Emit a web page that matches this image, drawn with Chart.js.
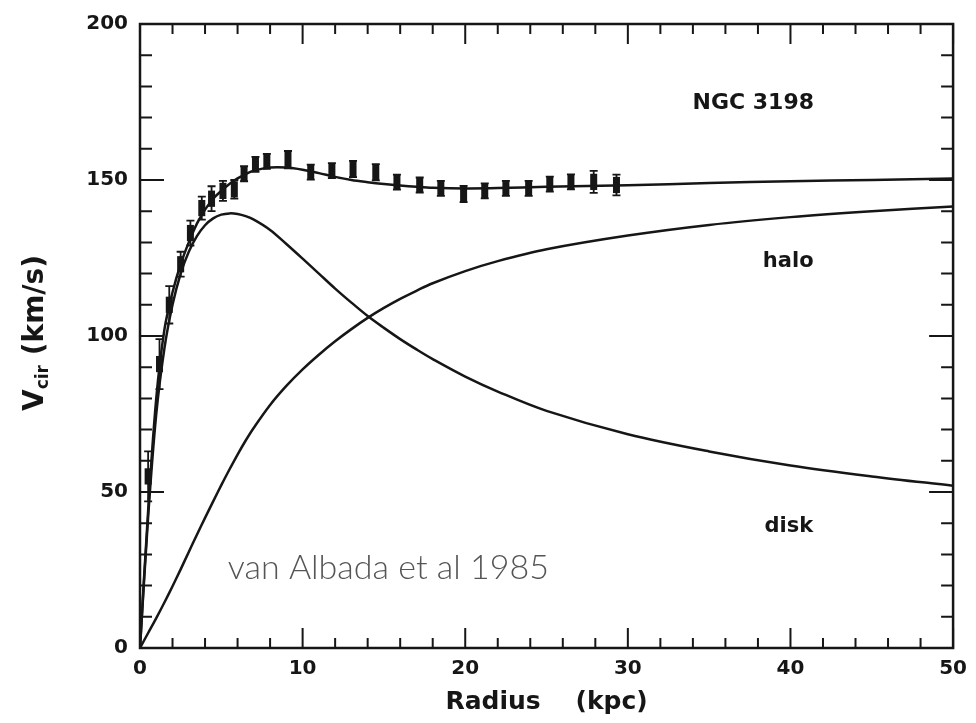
<!doctype html>
<html lang="en">
<head>
  <meta charset="utf-8">
  <title>NGC 3198 rotation curve</title>
  <script src="https://cdn.jsdelivr.net/npm/chart.js"></script>
  <style>
    html, body { margin: 0; padding: 0; background: #fff; }
  </style>
</head>
<body>
  <canvas id="curve" width="976" height="723"></canvas>

  <script>
    // observed rotation curve: radius (kpc), velocity (km/s), error (km/s)
    const obsR   = [0.5, 1.2, 1.8, 2.5, 3.1, 3.8, 4.4, 5.1, 5.8, 6.4, 7.1, 7.8, 9.1,
                    10.5, 11.8, 13.1, 14.5, 15.8, 17.2, 18.5, 19.9, 21.2, 22.5,
                    23.9, 25.2, 26.5, 27.9, 29.3];
    const obsV   = [55, 91, 110, 123, 133, 141, 144, 146.5, 147, 152, 155, 156, 156.5,
                    152.5, 153, 153.5, 152.5, 149.3, 148.4, 147.3, 145.5, 146.5, 147.3,
                    147.3, 148.7, 149.4, 149.4, 148.4];
    const obsErr = [8, 8, 6, 4, 4, 3.7, 4, 3.2, 3, 2.4, 2.4, 2.4, 2.8,
                    2.4, 2.4, 2.6, 2.6, 2.4, 2.4, 2.4, 2.6, 2.4, 2.4,
                    2.4, 2.4, 2.4, 3.5, 3.3];

    // model curves sampled along radius
    const modelR = [0, 0.5, 1, 1.5, 2, 2.5, 3, 3.5, 4, 4.5, 5, 5.5, 6, 6.5, 7, 8, 9, 10,
                    11, 12, 13, 14, 15, 16, 17, 18, 20, 22, 25, 30, 35, 40, 45, 50];
    const totalV = [0, 44, 80, 102, 114, 123, 130, 136, 140.5, 144, 146.5, 148.7, 150.5,
                    151.9, 153, 154, 154, 153.3, 152.2, 151, 150, 149.3, 148.7, 148.2,
                    147.8, 147.5, 147.3, 147.4, 147.8, 148.3, 149, 149.6, 150, 150.5];
    const diskV  = [0, 42, 75, 96, 110, 120, 127, 132, 135.5, 137.7, 138.9, 139.3, 139.1,
                    138.4, 137.3, 134, 129.5, 124.8, 120, 115.2, 110.7, 106.4, 102.6, 99,
                    95.7, 92.6, 87, 82.2, 76, 68.5, 63, 58.5, 55, 52];
    const haloV  = [0, 4.8, 9.6, 14.6, 19.8, 25.2, 30.8, 36.3, 41.7, 47, 52.2, 57.2, 62,
                    66.5, 70.6, 77.9, 84, 89.3, 94, 98.3, 102.2, 105.8, 109, 111.9, 114.5,
                    116.9, 120.8, 124, 127.8, 132.2, 135.6, 138.1, 140, 141.5];

    const xTicks = [0, 10, 20, 30, 40, 50];
    const yTicks = [0, 50, 100, 150, 200];

    const ink = '#161616';
    const numFont = { family: 'DejaVu Sans', weight: 'bold', size: 20 };

    const pts = (xs, ys) => xs.map((x, i) => ({ x, y: ys[i] }));

    function curve(label, ys) {
      return {
        label, data: pts(modelR, ys), showLine: true,
        borderColor: ink, borderWidth: 2.5, pointRadius: 0, tension: 0.35
      };
    }

    // frame with inward ticks on all four sides
    const framePlugin = {
      id: 'frame',
      afterDraw(chart) {
        const { ctx, chartArea: a, scales: { x, y } } = chart;
        ctx.save();
        ctx.strokeStyle = ink;
        ctx.lineWidth = 2.5;
        ctx.strokeRect(a.left, a.top, a.right - a.left, a.bottom - a.top);
        ctx.lineWidth = 2;
        ctx.beginPath();
        for (let v = 0; v <= 50; v += 2) {
          const px = x.getPixelForValue(v);
          const len = v % 10 === 0 ? 20 : 10;
          ctx.moveTo(px, a.bottom); ctx.lineTo(px, a.bottom - len);
          ctx.moveTo(px, a.top); ctx.lineTo(px, a.top + len);
        }
        for (let v = 0; v <= 200; v += 10) {
          const py = y.getPixelForValue(v);
          const len = v % 50 === 0 ? 24 : 12;
          ctx.moveTo(a.left, py); ctx.lineTo(a.left + len, py);
          ctx.moveTo(a.right, py); ctx.lineTo(a.right - len, py);
        }
        ctx.stroke();
        ctx.restore();
      }
    };

    // error bars for the observed points
    const errorPlugin = {
      id: 'errors',
      afterDatasetsDraw(chart) {
        const { ctx, scales: { x, y } } = chart;
        ctx.save();
        ctx.strokeStyle = ink;
        ctx.fillStyle = ink;
        ctx.lineWidth = 1.8;
        obsR.forEach((r, i) => {
          const px = x.getPixelForValue(r);
          const top = y.getPixelForValue(obsV[i] + obsErr[i]);
          const bot = y.getPixelForValue(obsV[i] - obsErr[i]);
          ctx.beginPath();
          ctx.moveTo(px, top); ctx.lineTo(px, bot);
          ctx.moveTo(px - 4, top); ctx.lineTo(px + 4, top);
          ctx.moveTo(px - 4, bot); ctx.lineTo(px + 4, bot);
          ctx.stroke();
          const e = Math.min(obsErr[i], 2.6);
          const t = y.getPixelForValue(obsV[i] + e);
          const b = y.getPixelForValue(obsV[i] - e);
          ctx.fillRect(px - 3.5, t, 7, b - t);
        });
        ctx.restore();
      }
    };

    // labels inside the plot and the y-axis title with subscript
    const textPlugin = {
      id: 'texts',
      afterDraw(chart) {
        const { ctx, scales: { x, y } } = chart;
        ctx.save();
        ctx.fillStyle = ink;
        ctx.textBaseline = 'middle';
        ctx.font = 'bold 22px "DejaVu Sans"';
        ctx.textAlign = 'right';
        ctx.fillText('NGC 3198', x.getPixelForValue(41.45), y.getPixelForValue(174.5));
        ctx.font = 'bold 21px "DejaVu Sans"';
        ctx.textAlign = 'left';
        ctx.fillText('halo', x.getPixelForValue(38.3), y.getPixelForValue(123.9));
        ctx.fillText('disk', x.getPixelForValue(38.4), y.getPixelForValue(38.9));

        ctx.fillStyle = '#555';
        ctx.font = '300 34px Lato, "Open Sans", sans-serif';
        ctx.fillText('van Albada et al 1985', x.getPixelForValue(5.4), y.getPixelForValue(25.5));

        // V_cir (km/s), rotated
        ctx.fillStyle = ink;
        ctx.translate(36, 333);
        ctx.rotate(-Math.PI / 2);
        const big = 'bold 28px "DejaVu Sans"';
        const small = 'bold 17px "DejaVu Sans"';
        ctx.font = big; const wV = ctx.measureText('V').width;
        ctx.font = small; const wSub = ctx.measureText('cir').width;
        ctx.font = big; const wRest = ctx.measureText(' (km/s)').width;
        let cx = -(wV + wSub + wRest) / 2;
        ctx.textAlign = 'left';
        ctx.font = big; ctx.fillText('V', cx, 0); cx += wV;
        ctx.font = small; ctx.fillText('cir', cx, 8); cx += wSub;
        ctx.font = big; ctx.fillText(' (km/s)', cx, 0);
        ctx.restore();
      }
    };

    new Chart(document.getElementById('curve'), {
      type: 'scatter',
      data: {
        datasets: [
          curve('total', totalV),
          curve('disk', diskV),
          curve('halo', haloV),
          { label: 'observed', data: pts(obsR, obsV), pointRadius: 0, showLine: false }
        ]
      },
      options: {
        responsive: false,
        animation: false,
        layout: { padding: { top: 20, right: 18, left: 0, bottom: 0 } },
        plugins: { legend: { display: false }, tooltip: { enabled: false } },
        scales: {
          x: {
            type: 'linear', min: 0, max: 50,
            afterFit: s => { s.height = 75; },
            afterBuildTicks: s => { s.ticks = xTicks.map(v => ({ value: v })); },
            grid: { display: false, drawTicks: false },
            border: { display: false },
            ticks: { font: numFont, color: ink, padding: 9, maxRotation: 0 },
            title: {
              display: true, text: 'Radius    (kpc)', color: ink,
              font: { family: 'DejaVu Sans', weight: 'bold', size: 25 },
              padding: { top: 0, bottom: 6 }
            }
          },
          y: {
            type: 'linear', min: 0, max: 200,
            afterFit: s => { s.width = 140; },
            afterBuildTicks: s => { s.ticks = yTicks.map(v => ({ value: v })); },
            grid: { display: false, drawTicks: false },
            border: { display: false },
            ticks: { font: numFont, color: ink, padding: 12 }
          }
        }
      },
      plugins: [framePlugin, errorPlugin, textPlugin]
    });
  </script>
</body>
</html>
